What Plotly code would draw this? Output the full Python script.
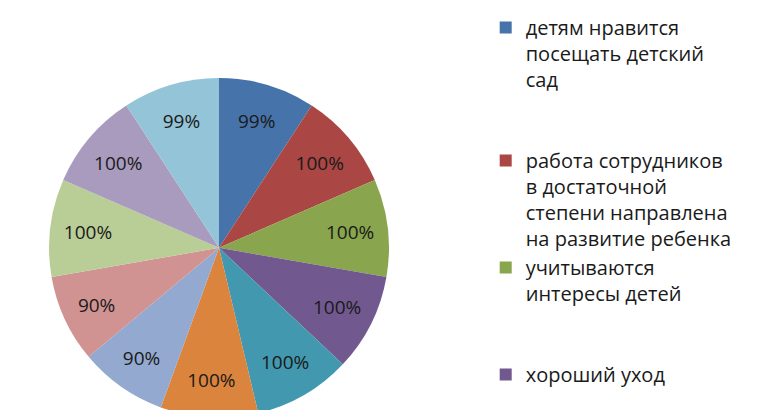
import plotly.graph_objects as go

labels = [
    "детям нравится<br>посещать детский<br>сад<br> <br> ",
    "работа сотрудников<br>в достаточной<br>степени направлена<br>на развитие ребенка",
    "учитываются<br>интересы детей<br> <br> ",
    "хороший уход<br> <br> <br> <br> ",
    "ребенок в безопасности",
    "управление детским садом",
    "материально-техническое обеспечение",
    "питание в детском саду",
    "подготовка к школе",
    "учитывается мнение родителей",
    "взаимодействие с педагогами",
]
values = [99, 100, 100, 100, 100, 100, 90, 90, 100, 100, 99]
colors = ["#4673AA", "#AA4643", "#89A54E", "#71588F", "#4198AF", "#DB843D",
          "#93A9CF", "#D19392", "#B9CD96", "#A99BBD", "#93C4D8"]

fig = go.Figure(go.Pie(
    labels=labels,
    values=values,
    sort=False,
    direction="clockwise",
    rotation=0,
    marker=dict(colors=colors, line=dict(width=0)),
    texttemplate="%{value}%",
    textposition="inside",
    insidetextorientation="horizontal",
    textfont=dict(family="Open Sans", size=19, color="#1a1a1a"),
    domain=dict(x=[0.0535, 0.496], y=[0.0, 0.83]),
    hoverinfo="label+value",
))

fig.update_layout(
    width=768, height=410,
    margin=dict(l=0, r=0, t=0, b=0, autoexpand=False),
    paper_bgcolor="white",
    plot_bgcolor="white",
    showlegend=True,
    legend=dict(
        x=0.622, y=1.0, xanchor="left", yanchor="top",
        font=dict(family="Open Sans", size=20, color="#1a1a1a"),
        valign="top",
        maxheight=3000,
        bgcolor="rgba(0,0,0,0)",
        tracegroupgap=0,
    ),
)

fig.write_html("out.html")
